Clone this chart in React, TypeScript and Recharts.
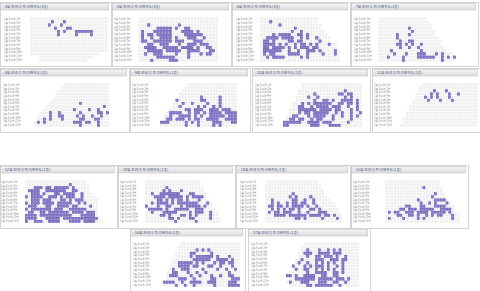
import React from 'react';
import { ScatterChart, Scatter, XAxis, YAxis } from 'recharts';

const COLS = 26;
const ROWS = 14;

// '#' = booked seat (purple), '.' = seat, ' ' = no seat
const panel1Rows = [
  '..........................',
  '.......#...#..............',
  '......#...#...............',
  '........#...##............',
  '.........#.#...######.....',
  '.........#.....#....#.....',
  '..........................',
  '..........................',
  '..........................',
  '..........................',
  '..........................',
  '.......................   ',
  '   ..................     ',
  '   ................       ',
];
const panel2Rows = [
  '..........................',
  '..........................',
  '...#.........#............',
  '......#####.#..##.........',
  '.#...######...####.#......',
  '.#.##.#####....######.....',
  '.#..#..####.#...###..#....',
  '.##..######.###...###.....',
  '...##..###...#..###.###...',
  '..####..#####.####.#..##..',
  '...#####.#####..####...##.',
  '..#..###....#...#...#.##..',
  '......######....#.........',
  '....#.....###.............',
];
const panel3Rows = [
  '...................',
  '...#...............',
  '......#.............',
  '...........#........',
  '..........#..#.......',
  '....#.####..##.#......',
  '..####.####..#.#..#....',
  '.##.#....##.##.....#...',
  '.####.#.#..#.##.#.#...#..',
  '.##.####.#.#.###.##......',
  '.######..#..#..###.#....#.',
  '.#.##....####..#....#...#.',
  '..#.####.....#.#..........',
  '..........................',
];
const panel4Rows = [
  '................',
  '.................',
  '..................',
  '..........#.......',
  '...........#.......',
  '......#...#........',
  '......#.............',
  '.......#..##.........',
  '......##.#.#..#......',
  '.......#..#..#........',
  '....#.........#........',
  '.....#...#...###...#.#...',
  '...#....#....######..#.#.#',
  '........#............#....',
];
const panel5Rows = [
  '           ...............',
  '          ................',
  '         .................',
  '        ..................',
  '        ..................',
  '       ...................',
  '      ..........#.........',
  '     ...................#.',
  '    ..........#....#..#...',
  '   ...#..#......#.....##.#',
  '  ....#..##....#.#..#..#..',
  '  ..#.#...#.....##...##...',
  ' .#.#.........###.##..#...',
  ' ...............#.....#...',
];
const panel6Rows = [
  '          ................',
  '         .................',
  '        ..................',
  '       ...................',
  '       .......#.....#.....',
  '      #.......##....#.....',
  '     ...#..#....#...#.....',
  '     ..#.....#.#..#.#.....',
  '    .....##.###..###.###..',
  '   .####..#.##.#.####.####',
  '  ..#..####.#.#..#####.###',
  '  .##.###.#.##..####..####',
  ' ###.....#.#.#....###...##',
  ' ........#...#....#.#.....',
];
const panel7Rows = [
  '      ....................',
  '      ....................',
  '     ...............#.....',
  '     .....#.......##.##...',
  '    ....#..#........#.#...',
  '    ......#..##.#..####.#.',
  '   ...#.#.######..##.##.#.',
  '   ..##..#.####.###..#..#.',
  '  ...######.####.##...#.#.',
  '  ...#.##.#####..#.#..#..#',
  ' ..##...#.####..#..#..#.#.',
  ' .##.##..#.##...#.....#...',
  '######..####.###.....#....',
  '##.......###...####.......',
];
const panel8Rows = [
  '       ...................',
  '      ....................',
  '      .....#...#..........',
  '     .....#.#...#..#......',
  '     ...#.#.#...#.........',
  '    .....#...#...#........',
  '    ......................',
  '   .......................',
  '   .......................',
  '  ........................',
  '  ........................',
  ' .........................',
  ' .........................',
  '..........................',
];
const panel9Rows = [
  '.....................',
  '...............#......',
  '...###.##.#####.#.....',
  '.####..#######..##....',
  '..###.#...##.####..#...',
  '#.####..###.#.###..#....',
  '..###.###...##.#.###.....',
  '#.###.####.#####..#.#....',
  '.###...##..####.##....#..',
  '#.#######.###..######....',
  '.##..##.#######.####.###.',
  '####.###########...#####.',
  '####...#####.############.',
  '#..###..####...####.####..',
];
const panel10Rows = [
  '...................',
  '...................',
  '.......#............',
  '......#.#...#.......',
  '..#..#######...##....',
  '...####.#####.#.####.',
  '....##.#.#.##.#...#...',
  '..#.####.#.#######...#.',
  '#...#..##...#.#####.#..',
  '.#####.#..#####..###....',
  '..#...#####....#.###..#..',
  '.....##.#...##.#.#....#..',
  '........##.#...##.....#...',
  '..........#......#........',
];
const panel11Rows = [
  '..................',
  '...................',
  '...................',
  '....................',
  '.........#..........',
  '........#.#....#.....',
  '..#......##..#..#.....',
  '..#.#..#.##.##..#......',
  '.##.##.#.####.#..#......',
  '..#.#.#.##.#...##.#......',
  '.#.##.###..#..#...###....',
  '...####.######.####.##.#..',
  '..........##.#.....#....#.',
  '..........................',
];
const panel12Rows = [
  '...................',
  '...................',
  '.............#......',
  '....................',
  '.................#...',
  '................#....',
  '...........#.....####.',
  '............#..#.#...#.',
  '.......##...##...####...',
  '.....##.###.#####..####.',
  '.#.##..###.####.#####.#..',
  '....##..##.#..#.#.##...#..',
  '.#....#....#.#.........#..',
  '..........................',
];
const panel13Rows = [
  '      ....................',
  '     .....................',
  '     ......#.#.#..........',
  '    .....##.....#.........',
  '    .....#.######.#...#...',
  '   .......######..####.#..',
  '   ..#####.#.#...#.##.##..',
  '  ...####.##...##..#...#..',
  '  .#..###....#....#..#..#.',
  ' ..##...#..#..#.......#...',
  ' .###....#..#...#..#..##..',
  ' ....###..#.....##.....###',
  '####..#..####..###....###.',
  '....#..#..#......#....####',
];
const panel14Rows = [
  '       ...................',
  '      ....................',
  '      ..#...#..#.#.#......',
  '     ..###..####.###......',
  '     ...#..##.###.#..#....',
  '    ..#....###..###.##....',
  '    .#..#..#.#.#.#..#.....',
  '   #...#.#.###.#..#.#.....',
  '   .#..##..#.#.#.#..#.....',
  '  ......#..####..##.#.....',
  ' ##.#..####..##..##.......',
  '  ..#######.#####.###.#...',
  ' .#...###...###..##..#....',
  '  ......##.######..#......',
];

const panelRows = [
  panel1Rows, panel2Rows, panel3Rows, panel4Rows,
  panel5Rows, panel6Rows, panel7Rows, panel8Rows,
  panel9Rows, panel10Rows, panel11Rows, panel12Rows,
  panel13Rows, panel14Rows,
];

const panelTitles = [
  '- 4회 잔여석 좌석배치도(1층)', '- 5회 잔여석 좌석배치도(1층)', '- 6회 잔여석 좌석배치도(1층)', '- 7회 잔여석 좌석배치도(1층)',
  '- 8회 잔여석 좌석배치도(1층)', '- 9회 잔여석 좌석배치도(1층)', '- 10회 잔여석 좌석배치도(1층)', '- 11회 잔여석 좌석배치도(1층)',
  '- 12회 잔여석 좌석배치도(1층)', '- 13회 잔여석 좌석배치도(1층)', '- 14회 잔여석 좌석배치도(1층)', '- 15회 잔여석 좌석배치도(1층)',
  '- 16회 잔여석 좌석배치도(1층)', '- 17회 잔여석 좌석배치도(1층)',
];

const rowLabels = [
  '1층 A구역 1열', '1층 A구역 2열', '1층 A구역 3열', '1층 A구역 4열', '1층 A구역 5열',
  '1층 A구역 6열', '1층 A구역 7열', '1층 A구역 8열', '1층 A구역 9열', '1층 A구역 10열',
  '1층 A구역 11열', '1층 A구역 12열',
];

// layout (positions / sizes only)
const LAYOUT = [
  { box: [0, 2, 111, 64], labelX: 4, grid: [30, 17, 78, 45] },
  { box: [112, 2, 119, 64], labelX: 114, grid: [138, 17, 80, 45] },
  { box: [232, 2, 118, 64], labelX: 236, grid: [260, 17, 80, 45] },
  { box: [351, 2, 127, 64], labelX: 354, grid: [378, 17, 78, 45] },
  { box: [0, 68, 129, 64], labelX: 3, grid: [31, 83, 78, 44] },
  { box: [130, 68, 120, 64], labelX: 132, grid: [157, 83, 80, 44] },
  { box: [252, 68, 118, 64], labelX: 255, grid: [283, 83, 79, 44] },
  { box: [372, 68, 108, 64], labelX: 374, grid: [400, 83, 78, 44] },
  { box: [0, 165, 117, 63], labelX: 1, grid: [25, 180, 76, 43] },
  { box: [118, 165, 117, 63], labelX: 120, grid: [145, 180, 76, 43] },
  { box: [236, 165, 114, 63], labelX: 240, grid: [265, 180, 77, 43] },
  { box: [351, 165, 117, 63], labelX: 353, grid: [385, 180, 75, 43] },
  { box: [130, 228, 115, 63], labelX: 133, grid: [163, 242, 77, 45] },
  { box: [248, 228, 122, 63], labelX: 251, grid: [283, 242, 76, 45] },
];

const ticks = rowLabels.map((_, i) => 0.7 + (i * 12.6) / (rowLabels.length - 1));

function parse(rows: string[]) {
  const cells: { c: number; r: number }[] = [];
  const seats: { c: number; r: number }[] = [];
  rows.forEach((line, r) => {
    for (let c = 0; c < line.length; c++) {
      const ch = line[c];
      if (ch === ' ') continue;
      cells.push({ c: c + 0.5, r: r + 0.5 });
      if (ch === '#') seats.push({ c: c + 0.5, r: r + 0.5 });
    }
  });
  return { cells, seats };
}

function Panel({ idx }: { idx: number }) {
  const L = LAYOUT[idx];
  const [bx, by, bw, bh] = L.box;
  const [gx, gy, gw, gh] = L.grid;
  const { cells, seats } = parse(panelRows[idx]);
  const cw = gw / COLS;
  const ch = gh / ROWS;
  const chartW = gx + gw - L.labelX;
  const yW = gx - L.labelX;
  const bg = (p: any) => (
    <rect x={p.cx - cw / 2 + 0.3} y={p.cy - ch / 2 + 0.3} width={cw - 0.6} height={ch - 0.6} fill="#eeeeee" />
  );
  const seat = (p: any) => (
    <rect x={p.cx - cw / 2 + 0.35} y={p.cy - ch / 2 + 0.35} width={cw - 0.7} height={ch - 0.7} fill="#8a7ed8" stroke="#55489f" strokeWidth={0.45} />
  );
  const tick = (p: any) => (
    <text x={0} y={p.y} dy={1} fontSize={2.8} fill="#8a8a8a" fontFamily="Noto Sans CJK KR" textAnchor="start">
      {rowLabels[p.index] ?? ''}
    </text>
  );
  return (
    <>
      <div style={{ position: 'absolute', left: bx, top: by, width: bw - 1, height: bh - 1, border: '1px solid #d4d4d4', background: '#fff' }} />
      <svg style={{ position: 'absolute', left: bx, top: by + 1 }} width={bw} height={8}>
        <defs>
          <linearGradient id={'hg' + idx} x1="0" y1="0" x2="0" y2="1">
            <stop offset="0" stopColor="#f6f6f6" />
            <stop offset="1" stopColor="#dcdcdc" />
          </linearGradient>
        </defs>
        <rect x={0.5} y={0.5} width={bw - 3} height={6.5} fill={`url(#hg${idx})`} stroke="#c4c4c4" strokeWidth={0.6} />
        <text x={2.5} y={5.3} fontSize={3.8} fill="#44507a" fontFamily="Noto Sans CJK KR">{panelTitles[idx]}</text>
      </svg>
      <div style={{ position: 'absolute', left: L.labelX, top: gy }}>
        <ScatterChart width={chartW} height={gh} margin={{ top: 0, right: 0, bottom: 0, left: 0 }}>
          <XAxis type="number" dataKey="c" domain={[0, COLS]} hide />
          <YAxis type="number" dataKey="r" domain={[0, ROWS]} reversed width={yW} ticks={ticks} interval={0}
            axisLine={false} tickLine={false} tick={tick} />
          <Scatter data={cells} shape={bg} isAnimationActive={false} />
          <Scatter data={seats} shape={seat} isAnimationActive={false} />
        </ScatterChart>
      </div>
    </>
  );
}

export default function App() {
  return (
    <div style={{ position: 'absolute', left: 0, top: 0, width: 480, height: 291, background: '#fff', overflow: 'hidden' }}>
      {LAYOUT.map((_, i) => (
        <Panel key={i} idx={i} />
      ))}
    </div>
  );
}
